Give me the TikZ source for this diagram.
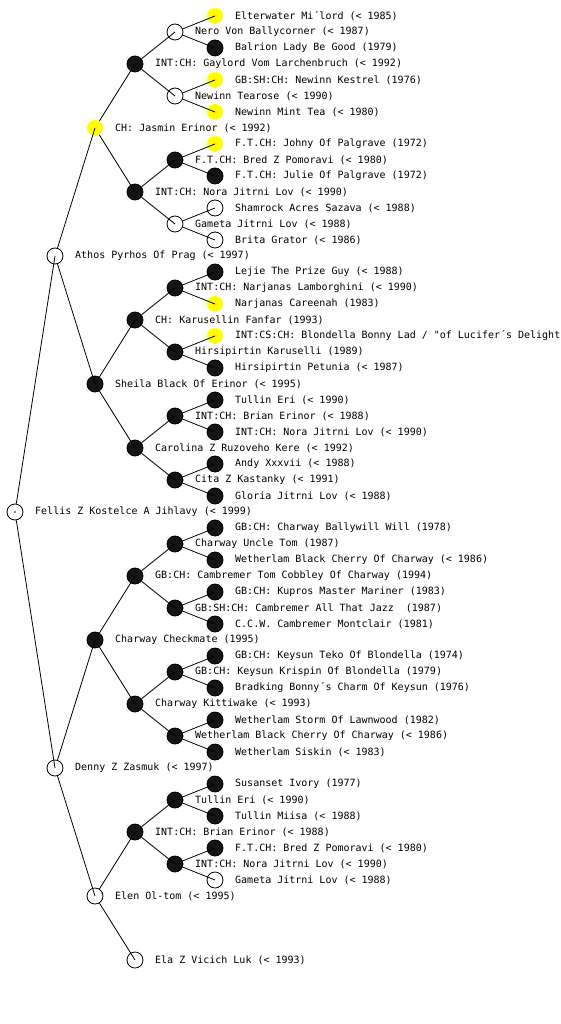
\documentclass[tikz,border=0pt]{standalone}
\usepackage{fontspec}
\newfontfamily\dogfont{DejaVu Sans Mono}
\usepackage{xcolor}
\definecolor{pedyellow}{RGB}{255, 255, 0}
\definecolor{pedblack}{RGB}{20, 20, 20}
\usepackage{tikz}
\usetikzlibrary{positioning}

\tikzset{
  dog/.style={circle, minimum size=16pt, inner sep=0pt, line width=0.8pt},
  dogempty/.style={dog, draw=black},
  dogblack/.style={dog, draw=black, fill=pedblack},
  dogyellow/.style={dog, fill=pedyellow},
  dogname/.style={anchor=west, inner sep=0pt, font=\dogfont\fontsize{10}{12}\selectfont},
  kin/.style={line width=0.8pt, black}
}
% one dog: id, x, y, style, text
\newcommand{\dog}[5]{%
  \node[#4] (#1) at (#2,#3) {};
  \node[dogname] (#1t) at (#2+20,#3) {#5};}

\begin{document}
\begin{tikzpicture}[x=1pt, y=-1pt]
      \useasboundingbox (0,0) rectangle (560,1024);

      % sire side
      \dog{fellis}{15}{512}{dogempty}{Fellis Z Kostelce A Jihlavy (< 1999)}
      \dog{athos}{55}{256}{dogempty}{Athos Pyrhos Of Prag (< 1997)}
      \dog{jasmin}{95}{128}{dogyellow}{CH: Jasmin Erinor (< 1992)}
      \dog{gaylord}{135}{64}{dogblack}{INT:CH: Gaylord Vom Larchenbruch (< 1992)}
      \dog{nero}{175}{32}{dogempty}{Nero Von Ballycorner (< 1987)}
      \dog{elter}{215}{16}{dogyellow}{Elterwater Mi´lord (< 1985)}
      \dog{balrion}{215}{48}{dogblack}{Balrion Lady Be Good (1979)}
      \dog{tearose}{175}{96}{dogempty}{Newinn Tearose (< 1990)}
      \dog{kestrel}{215}{80}{dogyellow}{GB:SH:CH: Newinn Kestrel (1976)}
      \dog{minttea}{215}{112}{dogyellow}{Newinn Mint Tea (< 1980)}
      \dog{noraA}{135}{192}{dogblack}{INT:CH: Nora Jitrni Lov (< 1990)}
      \dog{bredA}{175}{160}{dogblack}{F.T.CH: Bred Z Pomoravi (< 1980)}
      \dog{johny}{215}{144}{dogyellow}{F.T.CH: Johny Of Palgrave (1972)}
      \dog{julie}{215}{176}{dogblack}{F.T.CH: Julie Of Palgrave (1972)}
      \dog{gametaA}{175}{224}{dogempty}{Gameta Jitrni Lov (< 1988)}
      \dog{shamrock}{215}{208}{dogempty}{Shamrock Acres Sazava (< 1988)}
      \dog{brita}{215}{240}{dogempty}{Brita Grator (< 1986)}
      \dog{sheila}{95}{384}{dogblack}{Sheila Black Of Erinor (< 1995)}
      \dog{karus}{135}{320}{dogblack}{CH: Karusellin Fanfar (1993)}
      \dog{lambo}{175}{288}{dogblack}{INT:CH: Narjanas Lamborghini (< 1990)}
      \dog{lejie}{215}{272}{dogblack}{Lejie The Prize Guy (< 1988)}
      \dog{careenah}{215}{304}{dogyellow}{Narjanas Careenah (1983)}
      \dog{karuselli}{175}{352}{dogblack}{Hirsipirtin Karuselli (1989)}
      \dog{blondella}{215}{336}{dogyellow}{INT:CS:CH: Blondella Bonny Lad / "of Lucifer´s Delight}
      \dog{petunia}{215}{368}{dogblack}{Hirsipirtin Petunia (< 1987)}
      \dog{carolina}{135}{448}{dogblack}{Carolina Z Ruzoveho Kere (< 1992)}
      \dog{brianA}{175}{416}{dogblack}{INT:CH: Brian Erinor (< 1988)}
      \dog{tullinA}{215}{400}{dogblack}{Tullin Eri (< 1990)}
      \dog{noraB}{215}{432}{dogblack}{INT:CH: Nora Jitrni Lov (< 1990)}
      \dog{cita}{175}{480}{dogblack}{Cita Z Kastanky (< 1991)}
      \dog{andy}{215}{464}{dogblack}{Andy Xxxvii (< 1988)}
      \dog{gloria}{215}{496}{dogblack}{Gloria Jitrni Lov (< 1988)}

      % dam side
      \dog{denny}{55}{768}{dogempty}{Denny Z Zasmuk (< 1997)}
      \dog{checkmate}{95}{640}{dogblack}{Charway Checkmate (1995)}
      \dog{cobbley}{135}{576}{dogblack}{GB:CH: Cambremer Tom Cobbley Of Charway (1994)}
      \dog{uncletom}{175}{544}{dogblack}{Charway Uncle Tom (1987)}
      \dog{ballywill}{215}{528}{dogblack}{GB:CH: Charway Ballywill Will (1978)}
      \dog{cherryA}{215}{560}{dogblack}{Wetherlam Black Cherry Of Charway (< 1986)}
      \dog{jazz}{175}{608}{dogblack}{GB:SH:CH: Cambremer All That Jazz \ (1987)}
      \dog{kupros}{215}{592}{dogblack}{GB:CH: Kupros Master Mariner (1983)}
      \dog{montclair}{215}{624}{dogblack}{C.C.W. Cambremer Montclair (1981)}
      \dog{kittiwake}{135}{704}{dogblack}{Charway Kittiwake (< 1993)}
      \dog{krispin}{175}{672}{dogblack}{GB:CH: Keysun Krispin Of Blondella (1979)}
      \dog{teko}{215}{656}{dogblack}{GB:CH: Keysun Teko Of Blondella (1974)}
      \dog{bradking}{215}{688}{dogblack}{Bradking Bonny´s Charm Of Keysun (1976)}
      \dog{cherryB}{175}{736}{dogblack}{Wetherlam Black Cherry Of Charway (< 1986)}
      \dog{storm}{215}{720}{dogblack}{Wetherlam Storm Of Lawnwood (1982)}
      \dog{siskin}{215}{752}{dogblack}{Wetherlam Siskin (< 1983)}
      \dog{elen}{95}{896}{dogempty}{Elen Ol-tom (< 1995)}
      \dog{brianB}{135}{832}{dogblack}{INT:CH: Brian Erinor (< 1988)}
      \dog{tullinB}{175}{800}{dogblack}{Tullin Eri (< 1990)}
      \dog{susanset}{215}{784}{dogblack}{Susanset Ivory (1977)}
      \dog{miisa}{215}{816}{dogblack}{Tullin Miisa (< 1988)}
      \dog{noraC}{175}{864}{dogblack}{INT:CH: Nora Jitrni Lov (< 1990)}
      \dog{bredB}{215}{848}{dogblack}{F.T.CH: Bred Z Pomoravi (< 1980)}
      \dog{gametaB}{215}{880}{dogempty}{Gameta Jitrni Lov (< 1988)}
      \dog{ela}{135}{960}{dogempty}{Ela Z Vicich Luk (< 1993)}

      \fill (fellis.center) circle (0.8pt);

      % parent to child
      \foreach \p/\c in {fellis/athos, fellis/denny,
            athos/jasmin, athos/sheila, jasmin/gaylord, jasmin/noraA,
            gaylord/nero, gaylord/tearose, nero/elter, nero/balrion,
            tearose/kestrel, tearose/minttea, noraA/bredA, noraA/gametaA,
            bredA/johny, bredA/julie, gametaA/shamrock, gametaA/brita,
            sheila/karus, sheila/carolina, karus/lambo, karus/karuselli,
            lambo/lejie, lambo/careenah, karuselli/blondella, karuselli/petunia,
            carolina/brianA, carolina/cita, brianA/tullinA, brianA/noraB,
            cita/andy, cita/gloria,
            denny/checkmate, denny/elen, checkmate/cobbley, checkmate/kittiwake,
            cobbley/uncletom, cobbley/jazz, uncletom/ballywill, uncletom/cherryA,
            jazz/kupros, jazz/montclair, kittiwake/krispin, kittiwake/cherryB,
            krispin/teko, krispin/bradking, cherryB/storm, cherryB/siskin,
            elen/brianB, elen/ela, brianB/tullinB, brianB/noraC,
            tullinB/susanset, tullinB/miisa, noraC/bredB, noraC/gametaB}
            \draw[kin] (\p) -- (\c.center);
\end{tikzpicture}
\end{document}
